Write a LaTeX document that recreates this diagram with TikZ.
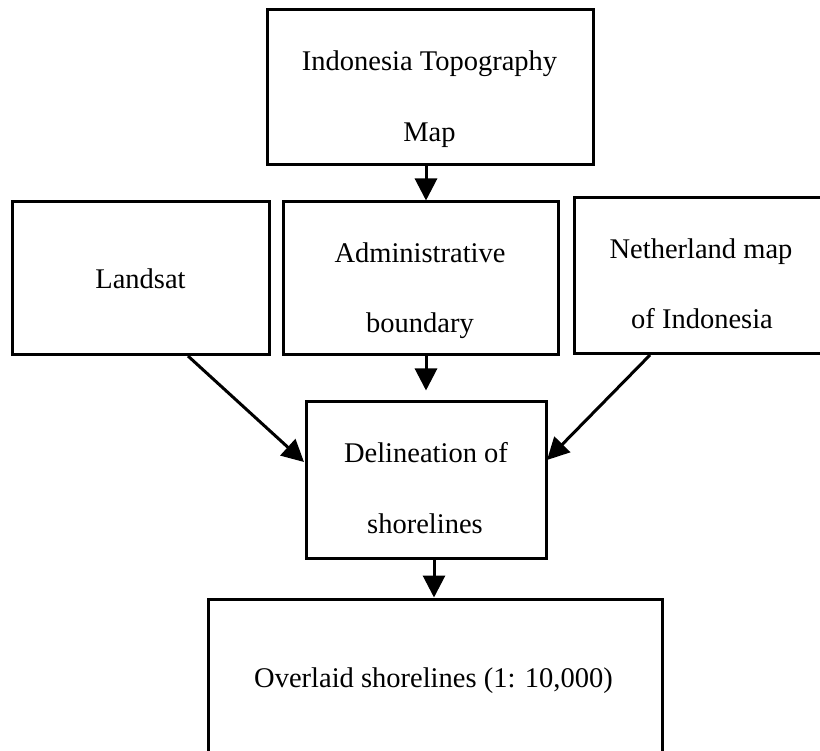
\documentclass[tikz,border=0pt]{standalone}
\usepackage{fontspec}
\setmainfont{Liberation Serif}
\usetikzlibrary{arrows.meta}
\begin{document}
\begin{tikzpicture}[x=1pt,y=-1pt,
  box/.style={draw, line width=3pt, inner sep=0pt},
  lbl/.style={anchor=base, inner sep=0pt, font=\fontsize{28.5pt}{34pt}\selectfont},
  arr/.style={line width=3pt, -{Triangle[length=22pt,width=22pt]}}]
\useasboundingbox (0,0) rectangle (820,751);
\clip (0,0) rectangle (820,751);
% boxes
\node[box, minimum width=326pt, minimum height=155pt] (top) at (430,87.5) {};
\node[box, minimum width=257pt, minimum height=153pt] (land) at (140.5,278.5) {};
\node[box, minimum width=275pt, minimum height=153pt] (adm) at (420.5,278.5) {};
\node[box, minimum width=254pt, minimum height=156pt] (neth) at (701,276) {};
\node[box, minimum width=240pt, minimum height=156pt] (del) at (426,480) {};
\node[box, minimum width=454pt, minimum height=158pt] (ovl) at (435,678) {};
% labels
\node[lbl] (t1) at (429.5,71) {Indonesia Topography};
\node[lbl] (t2) at (429.5,142) {Map};
\node[lbl] (l1) at (140.5,289) {Landsat};
\node[lbl] (a1) at (420,263) {Administrative};
\node[lbl] (a2) at (420,333) {boundary};
\node[lbl] (n1) at (701,259) {Netherland map};
\node[lbl] (n2) at (702,329) {of Indonesia};
\node[lbl] (d1) at (426,462) {Delineation of};
\node[lbl] (d2) at (425,533) {shorelines};
\node[lbl] (o1) at (433.5,687) {Overlaid shorelines (1: 10,000)};
% coordinates for connector ends
\coordinate (topS) at ([xshift=-4pt]top.south);
\coordinate (admN) at (topS |- adm.north);
\coordinate (admS) at (del.north |- adm.south);
\coordinate (delS) at ([xshift=8pt]del.south);
\coordinate (ovlN) at (delS |- ovl.north);
\coordinate (landS) at (188,356);
\coordinate (delW) at (304,462);
\coordinate (nethS) at (650,355);
\coordinate (delE) at (547,460);
% connectors
\draw[arr] (topS) -- (admN);
\draw[arr, shorten >=10pt] (admS) -- (del.north);
\draw[arr] (delS) -- (ovlN);
\draw[arr] (landS) -- (delW);
\draw[arr] (nethS) -- (delE);
\end{tikzpicture}
\end{document}
